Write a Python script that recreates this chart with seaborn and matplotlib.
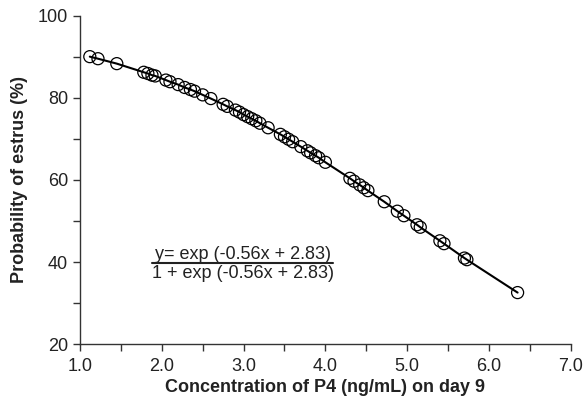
import matplotlib
matplotlib.use("Agg")
import matplotlib.pyplot as plt
from matplotlib.ticker import MultipleLocator
import seaborn as sns
import pandas as pd

# P4 concentration on day 9 (ng/mL) and probability of estrus (%)
p4 = [1.12, 1.22, 1.45, 1.78, 1.83, 1.88, 1.92, 2.05, 2.10, 2.20, 2.28, 2.35,
      2.40, 2.50, 2.60, 2.75, 2.80, 2.90, 2.95, 3.00, 3.05, 3.10, 3.15, 3.20,
      3.30, 3.45, 3.50, 3.55, 3.60, 3.70, 3.78, 3.82, 3.88, 3.92, 4.00, 4.30,
      4.35, 4.42, 4.47, 4.52, 4.72, 4.88, 4.96, 5.12, 5.16, 5.40, 5.45, 5.70,
      5.73, 6.35]
prob = [90.0, 89.5, 88.3, 86.2, 85.9, 85.5, 85.3, 84.3, 83.9, 83.2, 82.5, 82.0,
        81.6, 80.7, 79.8, 78.4, 77.9, 77.0, 76.5, 75.9, 75.4, 74.9, 74.4, 73.8,
        72.7, 71.1, 70.5, 69.9, 69.3, 68.1, 67.1, 66.6, 65.9, 65.4, 64.3, 60.4,
        59.7, 58.8, 58.1, 57.4, 54.7, 52.4, 51.3, 49.1, 48.5, 45.2, 44.5, 41.0,
        40.6, 32.6]
df = pd.DataFrame({"p4": p4, "prob": prob})

sns.set_style("ticks")
plt.rcParams["font.family"] = ["Liberation Sans", "DejaVu Sans"]

fig = plt.figure(figsize=(5.86, 4.09), dpi=100)
ax = fig.add_axes([0.1365, 0.158, 0.8375, 0.804])

sns.lineplot(data=df, x="p4", y="prob", ax=ax, color="black", linewidth=1.5)
sns.scatterplot(data=df, x="p4", y="prob", ax=ax, marker="o", s=75,
                facecolor="none", edgecolor="black", linewidth=0.9)

ax.set_xlim(1.0, 7.0)
ax.set_ylim(20, 100)
ax.xaxis.set_major_locator(MultipleLocator(1.0))
ax.xaxis.set_minor_locator(MultipleLocator(0.5))
ax.yaxis.set_major_locator(MultipleLocator(20))
ax.yaxis.set_minor_locator(MultipleLocator(10))
ax.set_xticklabels([f"{v:.1f}" for v in ax.get_xticks()])
ax.tick_params(axis="both", which="both", direction="out", length=5,
               width=1, color="#333333", labelsize=13, labelcolor="#222222")
ax.tick_params(axis="x", pad=5)
for s in ["left", "bottom"]:
    ax.spines[s].set_color("#333333")
    ax.spines[s].set_linewidth(1)
sns.despine(ax=ax)

ax.set_xlabel("Concentration of P4 (ng/mL) on day 9", fontsize=13,
              fontweight="bold", color="#222222", labelpad=3)
ax.set_ylabel("Probability of estrus (%)", fontsize=13,
              fontweight="bold", color="#222222", labelpad=7)

# fitted equation
ax.text(2.99, 41.9, "y= exp (-0.56x + 2.83)", ha="center", va="center",
        fontsize=13, color="#222222")
ax.plot([1.88, 4.09], [39.9, 39.9], color="#222222", linewidth=1.5)
ax.text(2.99, 37.2, "1 + exp (-0.56x + 2.83)", ha="center", va="center",
        fontsize=13, color="#222222")

fig.savefig("out.png", dpi=100)
